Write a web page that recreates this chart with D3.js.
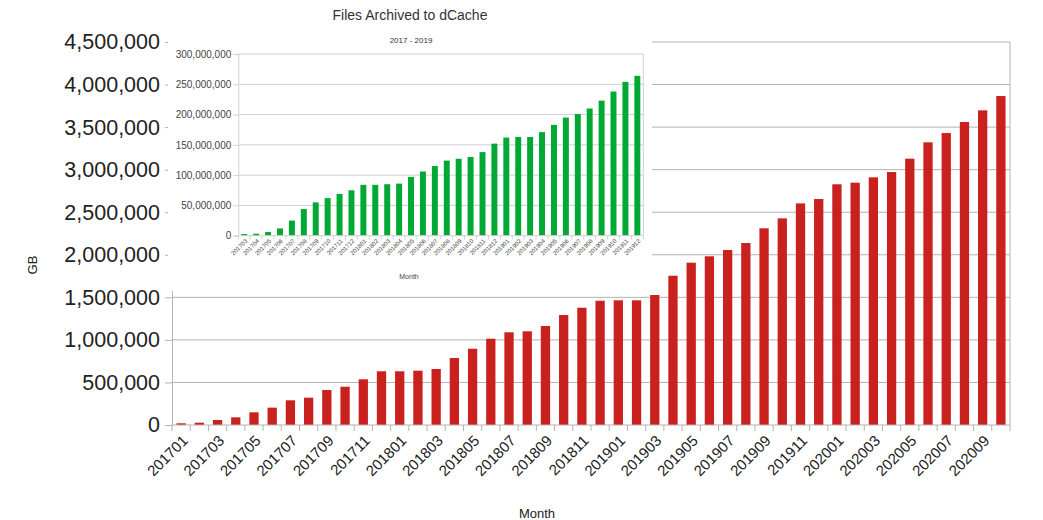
<!DOCTYPE html>
<html><head><meta charset="utf-8">
<script src="https://cdn.jsdelivr.net/npm/d3@7"></script>
<style>
body{margin:0;background:#fff;}
svg{display:block;font-family:"Liberation Sans",Arial,sans-serif;}
</style></head>
<body>
<svg id="c" width="1043" height="520"></svg>
<script>
// Main chart: total GB, 201701..202010
const mainMonths = ["201701","201702","201703","201704","201705","201706","201707","201708","201709","201710","201711","201712",
"201801","201802","201803","201804","201805","201806","201807","201808","201809","201810","201811","201812",
"201901","201902","201903","201904","201905","201906","201907","201908","201909","201910","201911","201912",
"202001","202002","202003","202004","202005","202006","202007","202008","202009","202010"];
const mainValues = [20000,27000,59000,90000,149000,204000,290000,321000,411000,450000,537000,631000,
631000,638000,658000,787000,896000,1014000,1089000,1101000,1163000,1292000,1378000,1460000,
1465000,1465000,1527000,1754000,1907000,1982000,2056000,2138000,2311000,2428000,2604000,2655000,
2828000,2847000,2910000,2972000,3129000,3321000,3430000,3560000,3697000,3865000];
const mainTicks = [0,500000,1000000,1500000,2000000,2500000,3000000,3500000,4000000,4500000];

// Inset chart: files archived, 201703..201912
const insetMonths = ["201703","201704","201705","201706","201707","201708","201709","201710","201711","201712",
"201801","201802","201803","201804","201805","201806","201807","201808","201809","201810","201811","201812",
"201901","201902","201903","201904","201905","201906","201907","201908","201909","201910","201911","201912"];
const insetValues = [2750000,3300000,6000000,12000000,25000000,44000000,55000000,62000000,69000000,75000000,
84000000,84000000,85000000,86000000,97000000,106000000,115000000,124000000,127000000,130000000,138000000,152000000,
162000000,163000000,163000000,171000000,183000000,195000000,201000000,210000000,223000000,238000000,254000000,264000000];
const insetTicks = [0,50000000,100000000,150000000,200000000,250000000,300000000];

const fmt = d3.format(",");
const svg = d3.select("#c");

// ---------- main chart ----------
const mx = d3.scaleBand().domain(mainMonths).range([172,1010]).paddingInner(0.49).paddingOuter(0.245);
const my = d3.scaleLinear().domain([0,4500000]).range([425,42]);
const gm = svg.append("g");

gm.append("g").selectAll("line").data(mainTicks.slice(1)).join("line")
  .attr("x1",172).attr("x2",1010).attr("y1",d=>my(d)).attr("y2",d=>my(d))
  .attr("stroke","#b3b3b3").attr("stroke-width",1);

const yAx = gm.append("g").attr("transform","translate(172,0)")
  .call(d3.axisLeft(my).tickValues(mainTicks).tickFormat(fmt).tickSize(7).tickPadding(5));
yAx.select(".domain").attr("stroke","#b3b3b3");
yAx.selectAll(".tick line").attr("stroke","#b3b3b3");
yAx.selectAll("text").attr("font-size",21.5).attr("fill","#222").attr("font-family","Liberation Sans, Arial, sans-serif");

gm.append("line").attr("x1",1010).attr("x2",1010).attr("y1",42).attr("y2",425).attr("stroke","#b3b3b3");

gm.append("g").selectAll("rect").data(mainValues).join("rect")
  .attr("x",(d,i)=>mx(mainMonths[i])).attr("width",mx.bandwidth())
  .attr("y",d=>my(d)).attr("height",d=>425-my(d))
  .attr("fill","#c9211e");

// x axis
const step = mx.step();
const bounds = d3.range(mainMonths.length+1).map(i=>172+i*step);
gm.append("line").attr("x1",172).attr("x2",1010).attr("y1",425).attr("y2",425).attr("stroke","#b3b3b3");
gm.append("g").selectAll("line").data(bounds).join("line")
  .attr("x1",d=>d).attr("x2",d=>d).attr("y1",425).attr("y2",431).attr("stroke","#b3b3b3");
gm.append("g").selectAll("text").data(mainMonths.filter((d,i)=>i%2===0)).join("text")
  .attr("transform",d=>`translate(${mx(d)+mx.bandwidth()/2+4},${438}) rotate(-45)`)
  .attr("text-anchor","end").attr("dy","0.35em")
  .attr("font-size",15).attr("fill","#222").text(d=>d);

svg.append("text").attr("x",537).attr("y",518).attr("text-anchor","middle")
  .attr("font-size",13).attr("fill","#222").text("Month");
svg.append("text").attr("transform","translate(37,265) rotate(-90)").attr("text-anchor","middle")
  .attr("font-size",13).attr("fill","#222").text("GB");

// ---------- inset chart ----------
const gi = svg.append("g");
gi.append("rect").attr("x",168).attr("y",0).attr("width",484).attr("height",291).attr("fill","#fff");

gi.append("text").attr("x",410).attr("y",20).attr("text-anchor","middle")
  .attr("font-size",14).attr("fill","#333").text("Files Archived to dCache");
gi.append("text").attr("x",411).attr("y",43).attr("text-anchor","middle")
  .attr("font-size",8).attr("fill","#333").text("2017 - 2019");

const ix = d3.scaleBand().domain(insetMonths).range([238.3,643.3]).paddingInner(0.5).paddingOuter(0.25);
const iy = d3.scaleLinear().domain([0,300000000]).range([235.7,54]);

gi.append("g").selectAll("line").data(insetTicks.slice(1)).join("line")
  .attr("x1",238.3).attr("x2",643.3).attr("y1",d=>iy(d)).attr("y2",d=>iy(d))
  .attr("stroke","#d0d0d0");
gi.append("line").attr("x1",643.3).attr("x2",643.3).attr("y1",54).attr("y2",235.7).attr("stroke","#d0d0d0");

const iyAx = gi.append("g").attr("transform","translate(238.3,0)")
  .call(d3.axisLeft(iy).tickValues(insetTicks).tickFormat(fmt).tickSize(5).tickPadding(2));
iyAx.select(".domain").attr("stroke","#d0d0d0");
iyAx.selectAll(".tick line").attr("stroke","#d0d0d0");
iyAx.selectAll("text").attr("font-size",10).attr("fill","#444").attr("font-family","Liberation Sans, Arial, sans-serif");

gi.append("g").selectAll("rect").data(insetValues).join("rect")
  .attr("x",(d,i)=>ix(insetMonths[i])).attr("width",ix.bandwidth())
  .attr("y",d=>iy(d)).attr("height",d=>235.7-iy(d))
  .attr("fill","#00a933");

const istep = ix.step();
gi.append("line").attr("x1",238.3).attr("x2",643.3).attr("y1",235.7).attr("y2",235.7).attr("stroke","#d0d0d0");
gi.append("g").selectAll("line").data(d3.range(insetMonths.length+1)).join("line")
  .attr("x1",i=>238.3+i*istep).attr("x2",i=>238.3+i*istep).attr("y1",235.7).attr("y2",239.5).attr("stroke","#d0d0d0");
gi.append("g").selectAll("text").data(insetMonths).join("text")
  .attr("transform",d=>`translate(${ix(d)+ix.bandwidth()/2+2},${240}) rotate(-45)`)
  .attr("text-anchor","end").attr("dy","0.35em")
  .attr("font-size",6).attr("fill","#444").text(d=>d);

gi.append("text").attr("x",409).attr("y",279).attr("text-anchor","middle")
  .attr("font-size",7).attr("fill","#444").text("Month");
</script>
</body></html>
